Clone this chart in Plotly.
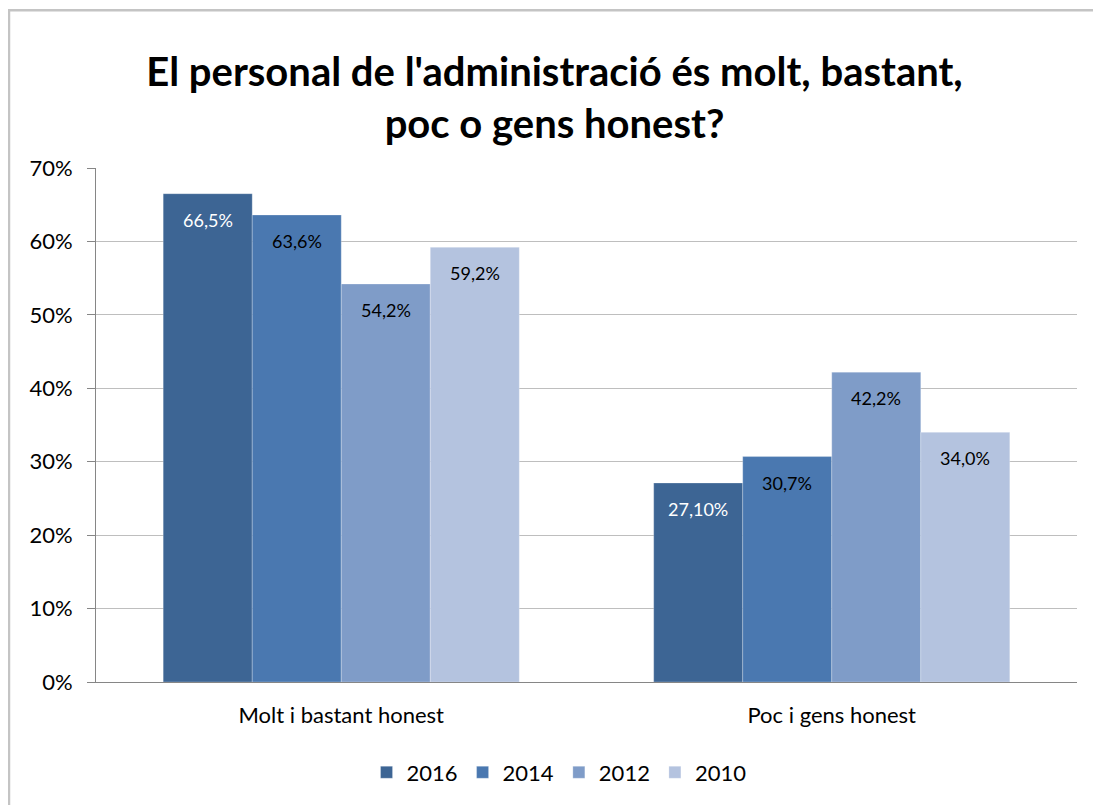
import plotly.graph_objects as go

categories = ['Molt i bastant honest', 'Poc i gens honest']
years = ['2016', '2014', '2012', '2010']
values = {
    '2016': [66.5, 27.1],
    '2014': [63.6, 30.7],
    '2012': [54.2, 42.2],
    '2010': [59.2, 34.0],
}
labels = {
    '2016': ['66,5%', '27,10%'],
    '2014': ['63,6%', '30,7%'],
    '2012': ['54,2%', '42,2%'],
    '2010': ['59,2%', '34,0%'],
}
colors = {'2016': '#3D6594', '2014': '#4A78B0', '2012': '#7F9CC8', '2010': '#B4C3DF'}
label_colors = {'2016': 'white', '2014': 'black', '2012': 'black', '2010': 'black'}

tick_vals = [0, 10, 20, 30, 40, 50, 60, 70]
tick_text = ['0%', '10%', '20%', '30%', '40%', '50%', '60%', '70%']

bargap = 0.274
bar_w = (1 - bargap) / len(years)

fig = go.Figure()
for i, y in enumerate(years):
    fig.add_trace(go.Bar(
        name=y, x=categories, y=values[y],
        marker=dict(color=colors[y], line=dict(color='rgba(255,255,255,0.5)', width=0.5)),
        hoverinfo='name+y',
    ))
    # value labels just below the top of each bar
    off = (i - (len(years) - 1) / 2) * bar_w
    for j, v in enumerate(values[y]):
        fig.add_annotation(x=j + off, y=v, text=labels[y][j], showarrow=False,
                           yanchor='middle', yshift=-26,
                           font=dict(size=18, color=label_colors[y], family='Lato'))

fig.update_layout(
    width=1093, height=797,
    barmode='group', bargap=bargap, bargroupgap=0,
    paper_bgcolor='white', plot_bgcolor='white',
    margin=dict(l=88, r=24, t=160, b=121),
    font=dict(family='Lato', size=22, color='black'),
    title=dict(text="<b>El personal de l'administració és molt, bastant,<br>poc o gens honest?</b>",
               x=0.5, xref='container', y=0.902, yanchor='middle',
               font=dict(size=40, family='Lato', color='black')),
    legend=dict(orientation='h', x=0.472, xanchor='center', y=-0.176, yanchor='middle',
                font=dict(size=22), traceorder='normal'),
)
fig.update_yaxes(range=[0, 70], tickvals=tick_vals, ticktext=tick_text,
                 showgrid=True, gridcolor='#BEBEBE', gridwidth=1,
                 showline=True, linecolor='#868686', linewidth=1,
                 ticks='outside', ticklen=8, tickcolor='#868686', zeroline=False,
                 ticklabelstandoff=10, tickfont=dict(size=22))
fig.update_xaxes(showline=True, linecolor='#868686', linewidth=1, ticks='',
                 tickfont=dict(size=22), ticklabelstandoff=14)

# outer chart frame: only left and top edges fall inside the view
fig.add_shape(type='rect', xref='paper', yref='paper',
              x0=-0.0887, x1=1.2, y0=-0.5, y1=1.307,
              line=dict(color='#C4C4C4', width=2.5), fillcolor='rgba(0,0,0,0)', layer='below')

fig.write_html("out.html")
